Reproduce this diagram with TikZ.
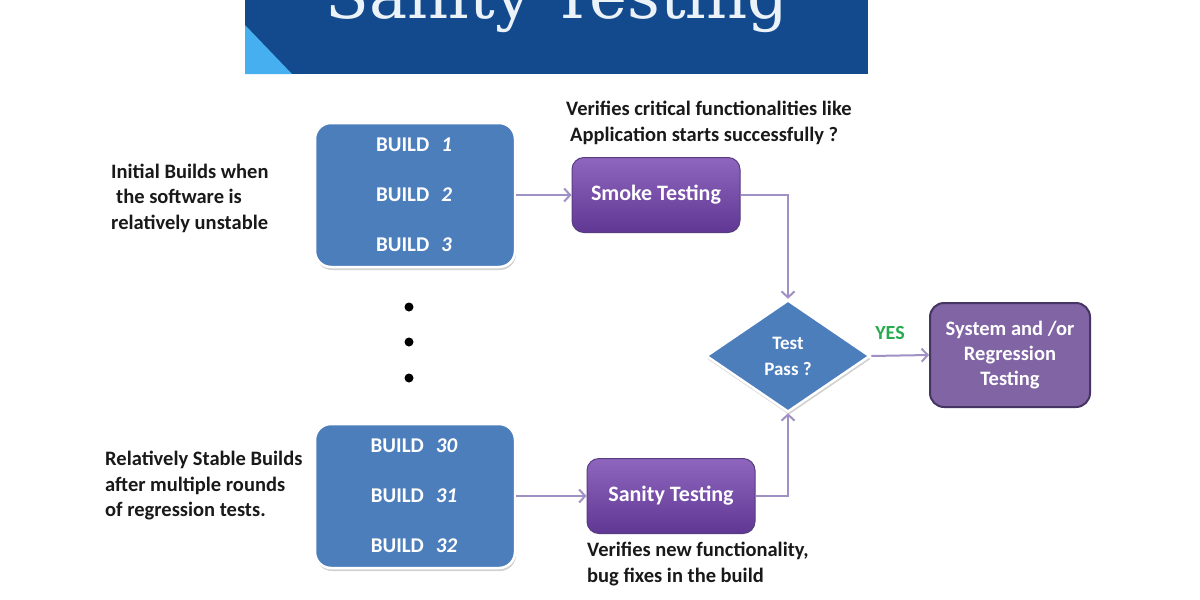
\documentclass[tikz,border=0pt]{standalone}
\usepackage{fontspec}
\setmainfont{Carlito}
\newfontfamily\titlefont{DejaVu Serif}
\usetikzlibrary{shapes.geometric, arrows.meta, shadows}

\definecolor{bannerblue}{RGB}{19,74,142}
\definecolor{bannersky}{RGB}{70,175,240}
\definecolor{titlewhite}{RGB}{236,243,248}
\definecolor{buildblue}{RGB}{76,126,188}
\definecolor{testtop}{RGB}{142,102,190}
\definecolor{testbot}{RGB}{96,56,148}
\definecolor{testedge}{RGB}{88,60,128}
\definecolor{sysfill}{RGB}{128,100,164}
\definecolor{sysedge}{RGB}{70,52,98}
\definecolor{flowline}{RGB}{160,145,196}
\definecolor{yesgreen}{RGB}{40,170,80}
\definecolor{notetext}{RGB}{25,25,25}

\begin{document}
\begin{tikzpicture}[x=1pt, y=-1pt,
    >={Straight Barb[length=6pt, width=13pt]},
    buildbox/.style={draw=white, line width=2.5pt, fill=buildblue, rounded corners=16pt,
        minimum width=200pt, minimum height=144pt,
        drop shadow={shadow xshift=1pt, shadow yshift=-3pt, opacity=0.35}},
    buildtxt/.style={text=white, inner sep=0pt, font=\bfseries\fontsize{21}{25}\selectfont},
    testbox/.style={draw=testedge, line width=1pt, top color=testtop, bottom color=testbot,
        rounded corners=12pt, minimum width=168pt, minimum height=75pt,
        text=white, font=\bfseries\fontsize{22}{26}\selectfont},
    decision/.style={diamond, draw=white, line width=2.5pt, fill=buildblue, inner sep=0pt,
        minimum width=164pt, minimum height=112pt, align=center, text=white,
        font=\bfseries\fontsize{19}{26}\selectfont,
        drop shadow={shadow xshift=1pt, shadow yshift=-3pt, opacity=0.35}},
    sysbox/.style={draw=sysedge, line width=2pt, fill=sysfill, rounded corners=14pt,
        minimum width=160pt, minimum height=104pt, align=center, text=white,
        font=\bfseries\fontsize{20.5}{25}\selectfont},
    note/.style={align=left, inner sep=0pt, text=notetext, anchor=west,
        font=\bfseries\fontsize{20.5}{25.5}\selectfont},
    flow/.style={draw=flowline, line width=2pt, ->}]

    \useasboundingbox (0,0) rectangle (1200,600);
    \clip (0,0) rectangle (1200,600);
    \fill[white] (0,0) rectangle (1200,600);

    % 1. Title banner
    \fill[bannerblue] (245,0) rectangle (868,74);
    \fill[bannersky] (245,25) -- (245,74) -- (292,74) -- cycle;
    \node[anchor=base, inner sep=0pt, text=titlewhite,
        font=\titlefont\fontsize{64}{70}\selectfont] (title) at (557,18) {Sanity Testing};

    % 2. Build groups
    \node[buildbox] (b1) at (415,195) {};
    \node[buildbox] (b2) at (415,496) {};
    \foreach \n [count=\i from 0] in {1,2,3}
        \node[buildtxt] (b1l\i) at (414,{145+50*\i}) {BUILD\hspace{12pt}\textit{\n}};
    \foreach \n [count=\i from 0] in {30,31,32}
        \node[buildtxt] (b2l\i) at (414,{446+50*\i}) {BUILD\hspace{12pt}\textit{\n}};

    % dots between the groups
    \foreach \y in {307,342,378}
        \fill (409,\y) circle (4.5pt);

    % 3. Testing steps
    \node[testbox] (smoke) at (656,195) {Smoke Testing};
    \node[testbox] (sanity) at (671,496) {Sanity Testing};
    \node[decision] (test) at (788,356) {Test\\Pass ?};
    \node[sysbox] (sys) at (1010,355) {System and /or\\Regression\\Testing};

    % 4. Connectors
    \draw[flow] (b1) -- (smoke);
    \draw[flow] (b2) -- (sanity);
    \draw[flow] (smoke.east) -| (test.north);
    \draw[flow] (sanity.east) -| (test.south);
    \draw[flow] (test.east) -- (sys.west);
    \node[text=yesgreen, inner sep=0pt, font=\bfseries\fontsize{20}{24}\selectfont]
        (yes) at (890,333) {YES};

    % 5. Notes
    \node[note] (n1) at (111,198) {Initial Builds when\\\hspace{5pt}the software is\\relatively unstable};
    \node[note] (n2) at (105,486) {Relatively Stable Builds\\after multiple rounds\\of regression tests.};
    \node[note] (n3) at (566,123) {Verifies critical functionalities like\\\hspace{4pt}Application starts successfully ?};
    \node[note] (n4) at (587,564) {Verifies new functionality,\\bug fixes in the build};

\end{tikzpicture}
\end{document}
